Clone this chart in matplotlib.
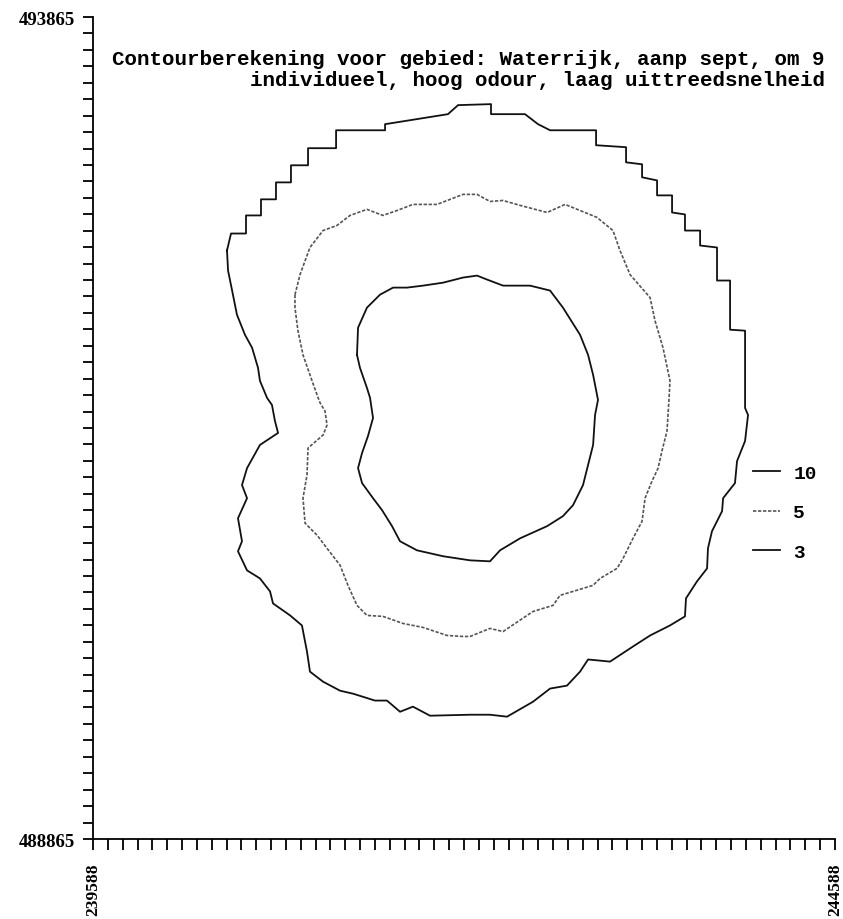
import numpy as np
import matplotlib
matplotlib.use("Agg")
import matplotlib.pyplot as plt

# Map extent (Dutch RD coordinates, metres)
x_min, x_max = 239588, 244588
y_min, y_max = 488865, 493865

title_lines = ["Contourberekening voor gebied: Waterrijk, aanp sept, om 9",
               "individueel, hoog odour, laag uittreedsnelheid"]
levels = ["10", "5", "3"]

# contour vertices, offsets in metres from (x_min, y_min)
c10_x = [1779, 1786, 1846, 1934, 2022, 2116, 2224, 2359, 2493, 2588, 2655, 2763, 2945,
         3080, 3167, 3282, 3336, 3370, 3403, 3383, 3370, 3336, 3302, 3235, 3167, 3060,
         2878, 2743, 2675, 2541, 2359, 2183, 2069, 2015, 1948, 1887, 1813, 1786, 1813,
         1853, 1887, 1867, 1846, 1799, 1779]
c10_y = [2945, 3110, 3232, 3311, 3354, 3354, 3366, 3384, 3415, 3427, 3403, 3366, 3366,
         3336, 3232, 3067, 2945, 2823, 2671, 2579, 2397, 2275, 2153, 2031, 1964, 1903,
         1829, 1756, 1689, 1695, 1720, 1756, 1811, 1903, 2000, 2073, 2165, 2256, 2348,
         2451, 2561, 2683, 2744, 2866, 2945]

c5_x = [1361, 1395, 1462, 1550, 1644, 1732, 1846, 1900, 1954, 2049, 2156, 2318, 2493,
        2588, 2675, 2763, 2878, 3060, 3181, 3282, 3396, 3504, 3551, 3619, 3754, 3787,
        3841, 3888, 3882, 3868, 3834, 3808, 3767, 3720, 3700, 3639, 3572, 3531, 3417,
        3370, 3147, 3100, 2965, 2763, 2675, 2541, 2493, 2386, 2224, 2089, 1954, 1846,
        1779, 1718, 1665, 1577, 1510, 1429, 1415, 1442, 1449, 1550, 1577, 1563, 1530,
        1510, 1462, 1415, 1381, 1361, 1361]
c5_y = [3311, 3433, 3598, 3701, 3732, 3793, 3830, 3811, 3793, 3823, 3860, 3860, 3921,
        3921, 3878, 3884, 3854, 3811, 3860, 3823, 3781, 3701, 3580, 3433, 3293, 3153,
        2988, 2787, 2683, 2482, 2360, 2256, 2177, 2073, 1933, 1829, 1707, 1646, 1585,
        1543, 1482, 1421, 1384, 1262, 1281, 1232, 1232, 1238, 1287, 1311, 1354, 1360,
        1421, 1543, 1665, 1768, 1848, 1921, 2073, 2214, 2378, 2457, 2518, 2604, 2653,
        2701, 2823, 2945, 3092, 3232, 3311]

c3_x = [903, 930, 1031, 1031, 1132, 1132, 1233, 1233, 1334, 1334, 1449, 1449, 1638,
        1638, 1968, 1968, 2392, 2460, 2682, 2682, 2911, 2999, 3080, 3390, 3390, 3592,
        3592, 3700, 3700, 3801, 3801, 3902, 3902, 3989, 3989, 4091, 4091, 4205, 4205,
        4293, 4293, 4394, 4394, 4414, 4394, 4340, 4326, 4246, 4239, 4171, 4144, 4138,
        4070, 3996, 3989, 3888, 3754, 3639, 3484, 3417, 3336, 3282, 3194, 3080, 2965,
        2790, 2675, 2541, 2271, 2156, 2069, 1981, 1900, 1752, 1665, 1550, 1462, 1442,
        1408, 1328, 1213, 1193, 1125, 1038, 977, 1004, 977, 1038, 1004, 1038, 1125,
        1247, 1226, 1206, 1173, 1125, 1112, 1072, 1024, 970, 943, 910, 903]
c3_y = [3580, 3683, 3683, 3793, 3793, 3891, 3891, 3994, 3994, 4098, 4098, 4202, 4202,
        4311, 4311, 4348, 4409, 4464, 4470, 4409, 4409, 4348, 4311, 4311, 4220, 4208,
        4116, 4104, 4025, 4006, 3915, 3915, 3811, 3799, 3701, 3701, 3610, 3598, 3397,
        3397, 3098, 3092, 2622, 2579, 2421, 2299, 2165, 2073, 1994, 1872, 1768, 1646,
        1567, 1464, 1354, 1299, 1238, 1171, 1079, 1085, 1092, 1018, 933, 915, 835,
        744, 756, 756, 750, 805, 774, 842, 842, 884, 902, 957, 1018, 1140,
        1299, 1360, 1433, 1506, 1585, 1634, 1750, 1811, 1951, 2073, 2153, 2256, 2397,
        2470, 2543, 2640, 2683, 2787, 2866, 2988, 3067, 3189, 3311, 3458, 3580]

W, H = 843, 920
fig = plt.figure(figsize=(W / 100, H / 100), dpi=100)
ax = fig.add_axes([93 / W, 80 / H, 742 / W, 822 / H])

ax.plot(x_min + np.array(c10_x), y_min + np.array(c10_y), color="#111111", lw=1.3,
        label=levels[0])
ax.plot(x_min + np.array(c5_x), y_min + np.array(c5_y), color="#555555", lw=1.2,
        linestyle=(0, (2, 1)), label=levels[1])
ax.plot(x_min + np.array(c3_x), y_min + np.array(c3_y), color="#111111", lw=1.3,
        label=levels[2])

ax.set_xlim(x_min, x_max)
ax.set_ylim(y_min, y_max)
for s in ["top", "right"]:
    ax.spines[s].set_visible(False)
for s in ["left", "bottom"]:
    ax.spines[s].set_linewidth(1.3)

# tick every 100 m, labels only at the ends
xt = np.arange(x_min, x_max + 1, 100)
yt = np.arange(y_min, y_max + 1, 100)
ax.set_xticks(xt)
ax.set_xticklabels([str(v) if v in (x_min, x_max) else "" for v in xt],
                   rotation=90, fontfamily="Liberation Serif", fontsize=12.5,
                   fontweight="bold")
ax.set_yticks(yt)
ax.set_yticklabels([str(v) if v in (y_min, y_max) else "" for v in yt],
                   fontfamily="Liberation Serif", fontsize=13.5, fontweight="bold")
ax.tick_params(axis="x", length=8, width=1.3, pad=9)
ax.tick_params(axis="y", length=7, width=1.3, pad=6)

fig.text(825 / W, 1 - 65 / H, title_lines[0], ha="right", va="baseline",
         fontfamily="Liberation Mono", fontweight="bold", fontsize=15)
fig.text(825 / W, 1 - 86 / H, title_lines[1], ha="right", va="baseline",
         fontfamily="Liberation Mono", fontweight="bold", fontsize=15)

ax.legend(loc="upper left", bbox_to_anchor=(0.889, 0.456), frameon=False,
          borderpad=0, borderaxespad=0, handlelength=1.4, handletextpad=0.7,
          labelspacing=1.13, prop={"family": "Liberation Mono", "weight": "bold",
                                   "size": 14})

fig.savefig("out.png", dpi=100, facecolor="white")
